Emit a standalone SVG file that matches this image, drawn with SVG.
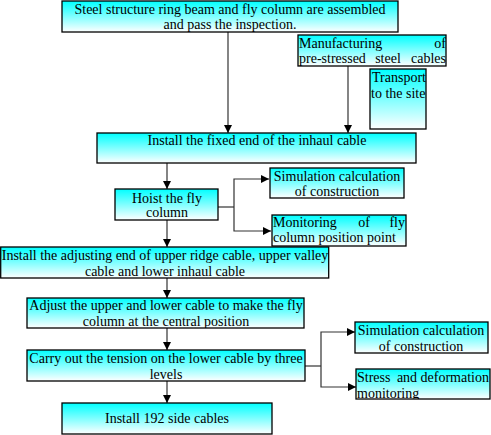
<svg xmlns="http://www.w3.org/2000/svg" width="491" height="435" viewBox="0 0 491 435">
<defs>
<linearGradient id="g" x1="0" y1="0" x2="0" y2="1">
<stop offset="0" stop-color="#00FFFF"/>
<stop offset="1" stop-color="#FFFFFF"/>
</linearGradient>
<marker id="ah" viewBox="0 0 10 10" refX="10" refY="5" markerWidth="8" markerHeight="8" markerUnits="userSpaceOnUse" orient="auto">
<path d="M0,0 L10,5 L0,10 z" fill="#000"/>
</marker>
<clipPath id="c1"><rect x="62" y="1" width="336" height="31"/></clipPath>
<clipPath id="c2"><rect x="298" y="35" width="148" height="31"/></clipPath>
<clipPath id="c6"><rect x="272" y="215" width="134" height="31"/></clipPath>
<clipPath id="c8"><rect x="27" y="298" width="277" height="30"/></clipPath>
<clipPath id="c12"><rect x="356" y="369" width="134" height="30"/></clipPath>
</defs>
<style>
.box{fill:url(#g);stroke:#000;stroke-width:1.3}
text{font-family:"Liberation Serif","Times New Roman",serif;font-size:14px;fill:#000}
.m{text-anchor:middle}
.e{text-anchor:end}
.c{fill:none;stroke:#333;stroke-width:1.2}
.a{marker-end:url(#ah)}
</style>
<g id="connectors">
<line class="c a" x1="228" y1="32" x2="228" y2="133"/>
<line class="c a" x1="348" y1="66" x2="348" y2="133"/>
<line class="c a" x1="167" y1="163" x2="167" y2="189"/>
<polyline class="c" points="218,207 234,207"/>
<polyline class="c a" points="234,207 234,179 269,179"/>
<polyline class="c a" points="234,207 234,231 271,231"/>
<line class="c a" x1="167" y1="220" x2="167" y2="247"/>
<line class="c a" x1="167" y1="278" x2="167" y2="298"/>
<line class="c a" x1="167" y1="328" x2="167" y2="350"/>
<line class="c a" x1="167" y1="381" x2="167" y2="403"/>
<polyline class="c" points="305,366 321,366"/>
<polyline class="c a" points="321,366 321,332 355,332"/>
<polyline class="c a" points="321,366 321,387 356,387"/>
</g>
<g id="n1">
<rect class="box" x="62" y="1" width="336" height="31"/>
<g clip-path="url(#c1)">
<text class="m" x="230" y="14">Steel structure ring beam and fly column are assembled</text>
<text class="m" x="230" y="29">and pass the inspection.</text>
</g>
</g>
<g id="n2">
<rect class="box" x="298" y="35" width="148" height="31"/>
<g clip-path="url(#c2)">
<text x="299" y="48">Manufacturing</text>
<text class="e" x="446" y="48">of</text>
<text x="299" y="63">pre-stressed</text>
<text class="m" x="388" y="63">steel</text>
<text class="e" x="446" y="63">cables</text>
</g>
</g>
<g id="n3">
<rect class="box" x="370" y="69" width="56" height="60"/>
<text x="372" y="82">Transport</text>
<text x="371" y="98">to the site</text>
</g>
<g id="n4">
<rect class="box" x="97" y="133" width="319" height="30"/>
<text class="m" x="257" y="145">Install the fixed end of the inhaul cable</text>
</g>
<g id="n5">
<rect class="box" x="115" y="189" width="103" height="31"/>
<text class="m" x="167" y="203">Hoist the fly</text>
<text class="m" x="167" y="217">column</text>
</g>
<g id="n6">
<rect class="box" x="270" y="168" width="134" height="30"/>
<text class="m" x="337" y="181">Simulation calculation</text>
<text class="m" x="337" y="196">of construction</text>
</g>
<g id="n7">
<rect class="box" x="272" y="215" width="134" height="31"/>
<g clip-path="url(#c6)">
<text x="273" y="227">Monitoring</text>
<text class="m" x="364" y="227">of</text>
<text class="e" x="405" y="227">fly</text>
<text x="273" y="242">column position point</text>
</g>
</g>
<g id="n8">
<rect class="box" x="0.7" y="247" width="328" height="31"/>
<text class="m" x="165" y="260">Install the adjusting end of upper ridge cable, upper valley</text>
<text class="m" x="165" y="276">cable and lower inhaul cable</text>
</g>
<g id="n9">
<rect class="box" x="27" y="298" width="277" height="30"/>
<g clip-path="url(#c8)">
<text class="m" x="166" y="310">Adjust the upper and lower cable to make the fly</text>
<text class="m" x="166" y="326">column at the central position</text>
</g>
</g>
<g id="n10">
<rect class="box" x="27" y="350" width="278" height="31"/>
<text class="m" x="166" y="363">Carry out the tension on the lower cable by three</text>
<text class="m" x="166" y="379">levels</text>
</g>
<g id="n11">
<rect class="box" x="62" y="403" width="210" height="31"/>
<text class="m" x="167" y="423">Install 192 side cables</text>
</g>
<g id="n12">
<rect class="box" x="355" y="322" width="133" height="31"/>
<text class="m" x="421" y="335">Simulation calculation</text>
<text class="m" x="421" y="351">of construction</text>
</g>
<g id="n13">
<rect class="box" x="356" y="369" width="134" height="30"/>
<g clip-path="url(#c12)">
<text x="357" y="382">Stress</text>
<text class="m" x="407" y="382">and</text>
<text class="e" x="489" y="382">deformation</text>
<text x="357" y="398">monitoring</text>
</g>
</g>
</svg>
